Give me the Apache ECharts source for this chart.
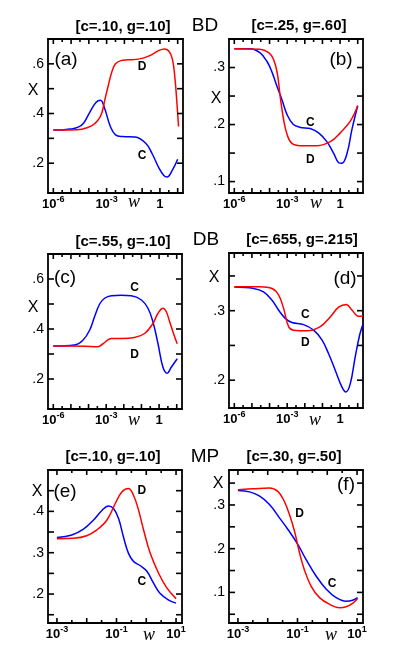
<!DOCTYPE html>
<html>
<head>
<meta charset="utf-8">
<script src="https://cdn.jsdelivr.net/npm/echarts@6.0.0/dist/echarts.min.js"></script>
<style>
  html, body { margin: 0; padding: 0; background: #fff; }
  #chart { width: 415px; height: 668px; }
</style>
</head>
<body>
<div id="chart"></div>
<script>
// x is log10(w), y is X
// BD, c=.10 g=.10
const a_C = [[-6.0,.334],[-5.5,.334],[-5.0,.338],[-4.6,.345],[-4.3,.361],[-3.95,.405],[-3.6,.444],[-3.35,.453],[-3.1,.418],[-2.8,.350],[-2.5,.314],[-2.1,.307],[-1.4,.305],[-0.8,.280],[-0.45,.240],[-0.05,.180],[0.22,.150],[0.4,.144],[0.7,.172],[1.0,.216]];
const a_D = [[-6.0,.334],[-5.0,.334],[-4.4,.337],[-3.85,.350],[-3.5,.372],[-3.28,.400],[-3.1,.455],[-2.9,.515],[-2.7,.569],[-2.5,.600],[-2.2,.613],[-1.8,.616],[-1.2,.619],[-0.6,.632],[-0.1,.652],[0.25,.660],[0.5,.652],[0.7,.620],[0.85,.540],[0.97,.430],[1.05,.348]];
// BD, c=.25 g=.60
const b_C = [[-6.0,.333],[-5.1,.333],[-4.55,.326],[-4.15,.311],[-3.85,.291],[-3.58,.267],[-3.3,.244],[-3.0,.217],[-2.65,.200],[-2.25,.195],[-1.7,.193],[-1.2,.185],[-0.75,.170],[-0.37,.150],[-0.08,.133],[0.1,.132],[0.4,.150],[0.67,.191],[1.0,.233]];
const b_D = [[-6.0,.333],[-4.55,.332],[-4.05,.326],[-3.77,.314],[-3.55,.288],[-3.4,.250],[-3.2,.208],[-3.0,.182],[-2.73,.167],[-2.25,.163],[-1.3,.163],[-0.55,.170],[0.0,.185],[0.58,.206],[1.0,.233]];
// DB, c=.55 g=.10
const c_C = [[-6.0,.332],[-4.8,.336],[-4.32,.355],[-3.94,.395],[-3.66,.449],[-3.37,.500],[-3.09,.523],[-2.7,.533],[-2.15,.535],[-1.58,.533],[-1.0,.516],[-0.63,.483],[-0.35,.429],[-0.06,.341],[0.22,.247],[0.46,.223],[0.69,.247],[1.03,.281]];
const c_D = [[-6.0,.332],[-5.2,.332],[-4.2,.331],[-3.47,.329],[-3.18,.341],[-2.71,.362],[-2.14,.362],[-1.39,.366],[-0.82,.382],[-0.35,.422],[-0.06,.463],[0.22,.483],[0.41,.469],[0.6,.429],[0.85,.375],[1.03,.341]];
// DB, c=.655 g=.215
const d_C = [[-6.0,.334],[-4.9,.332],[-4.34,.327],[-3.86,.315],[-3.49,.301],[-3.11,.289],[-2.73,.283],[-2.07,.280],[-1.5,.272],[-1.03,.258],[-0.65,.238],[-0.27,.214],[0.11,.190],[0.33,.183],[0.58,.195],[0.86,.234],[1.11,.265],[1.3,.281]];
const d_D = [[-6.0,.3346],[-4.53,.3346],[-3.86,.332],[-3.49,.3226],[-3.2,.303],[-2.92,.277],[-2.64,.272],[-1.88,.271],[-1.12,.277],[-0.56,.291],[-0.08,.305],[0.35,.309],[0.67,.301],[1.05,.292],[1.3,.292]];
// MP, c=.10 g=.10
const e_C = [[-3.0,.337],[-2.5,.343],[-2.11,.357],[-1.77,.379],[-1.49,.402],[-1.27,.413],[-1.1,.407],[-0.93,.383],[-0.77,.339],[-0.6,.299],[-0.43,.279],[-0.21,.269],[0.02,.255],[0.24,.227],[0.46,.202],[0.74,.186],[1.0,.178]];
const e_D = [[-3.0,.334],[-2.44,.335],[-2.0,.341],[-1.66,.355],[-1.32,.379],[-1.04,.419],[-0.82,.447],[-0.6,.455],[-0.43,.439],[-0.26,.403],[-0.09,.355],[0.13,.299],[0.41,.251],[0.69,.215],[1.0,.189]];
// MP, c=.30 g=.50
const f_C = [[-3.0,.333],[-2.61,.330],[-2.27,.320],[-1.94,.301],[-1.6,.270],[-1.32,.244],[-0.99,.210],[-0.71,.175],[-0.37,.137],[-0.04,.108],[0.3,.088],[0.63,.080],[0.85,.082],[1.02,.088]];
const f_D = [[-3.0,.335],[-2.5,.337],[-1.94,.339],[-1.66,.331],[-1.44,.308],[-1.27,.278],[-1.1,.240],[-0.93,.190],[-0.77,.152],[-0.54,.114],[-0.26,.088],[0.07,.073],[0.41,.065],[0.63,.067],[0.85,.075],[1.02,.086]];

// where the C / D tags sit [log10 w, X]
const tagC = [[-1.01,.229],[-1.69,.204],[-1.39,.564],[-1.97,.294],[-0.15,.229],[0.16,.120]];
const tagD = [[-1.01,.589],[-1.69,.139],[-1.39,.297],[-1.97,.254],[-0.15,.449],[-0.93,.280]];

// w axes (exponents)
const wTicksUpper = [-6,-5,-4,-3,-2,-1,0,1];
const wMinorUpper = [-5.5,-4.5,-3.5,-2.5,-1.5,-0.5,0.5];
const wLabelsUpper = [-6,-3,0];
const wTicksLower = [-3,-2,-1,0,1];
const wMinorLower = [-2.5,-1.5,-0.5,0.5];
const wLabelsLower = [-3,-1,1];

// X axes
const yTicksAC = [.2,.3,.4,.5,.6,.7], yLabelsAC = [.2,.4,.6];
const yTicksB = [.1,.15,.2,.25,.3,.35], yLabelsB = [.1,.2,.3];
const yTicksD = [.2,.25,.3,.35], yLabelsD = [.2,.3];
const yTicksE = [.15,.2,.25,.3,.35,.4,.45,.5], yLabelsE = [.2,.3,.4];
const yTicksF = [.05,.1,.15,.2,.25,.3,.35], yLabelsF = [.1,.2,.3];

const titles = ['[c=.10, g=.10]','[c=.25, g=.60]','[c=.55, g=.10]','[c=.655, g=.215]','[c=.10, g=.10]','[c=.30, g=.50]'];
const letters = ['(a)','(b)','(c)','(d)','(e)','(f)'];

const FONT = '"Liberation Sans", Arial, Helvetica, sans-serif';
const RED = '#ff0000', BLUE = '#0000ff';

const upper = {min: -6.3, max: 1.3, ticks: wTicksUpper, minor: wMinorUpper, labels: wLabelsUpper};
const lower = {min: -3.3, max: 1.2, ticks: wTicksLower, minor: wMinorLower, labels: wLabelsLower};

const panels = [
  {box: [48, 39, 135, 154], w: upper, ymin: .08, ymax: .7, yt: yTicksAC, yl: yLabelsAC, C: a_C, D: a_D},
  {box: [229, 39, 134, 154], w: upper, ymin: .08, ymax: .35, yt: yTicksB, yl: yLabelsB, C: b_C, D: b_D},
  {box: [48, 254, 134, 155], w: upper, ymin: .08, ymax: .7, yt: yTicksAC, yl: yLabelsAC, C: c_C, D: c_D},
  {box: [229, 253, 134, 155], w: upper, ymin: .16, ymax: .383, yt: yTicksD, yl: yLabelsD, C: d_C, D: d_D},
  {box: [48, 470, 134, 153], w: lower, ymin: .13, ymax: .5, yt: yTicksE, yl: yLabelsE, C: e_C, D: e_D},
  {box: [229, 470, 134, 153], w: lower, ymin: .03, ymax: .38, yt: yTicksF, yl: yLabelsF, C: f_C, D: f_D}
];

const frame = {color: '#000', width: 1.8};

function powLabel(v) {
  if (v === 0) return '{b|1}';
  return '{b|10}{s|' + v + '}';
}
const powRich = {
  b: {fontFamily: FONT, fontWeight: 'bold', fontSize: 13, color: '#000', lineHeight: 16, verticalAlign: 'bottom'},
  s: {fontFamily: FONT, fontWeight: 'bold', fontSize: 9, color: '#000', lineHeight: 6, verticalAlign: 'top'}
};

const grid = [], xAxis = [], yAxis = [], series = [];

panels.forEach(function (p, i) {
  grid.push({left: p.box[0], top: p.box[1], width: p.box[2], height: p.box[3], outerBoundsMode: 'none'});
  ['bottom', 'top'].forEach(function (pos) {
    xAxis.push({
      gridIndex: i, type: 'value', position: pos, min: p.w.min, max: p.w.max,
      axisLine: {show: true, onZero: false, lineStyle: frame},
      axisTick: {show: false},
      axisLabel: pos === 'bottom'
        ? {show: true, customValues: p.w.labels, margin: 2, formatter: powLabel, rich: powRich}
        : {show: false},
      splitLine: {show: false}
    });
  });
  ['left', 'right'].forEach(function (pos) {
    yAxis.push({
      gridIndex: i, type: 'value', position: pos, min: p.ymin, max: p.ymax,
      axisLine: {show: true, onZero: false, lineStyle: frame},
      axisTick: {show: false},
      axisLabel: pos === 'left'
        ? {show: true, customValues: p.yl, margin: 4, color: '#000', fontFamily: FONT, fontSize: 14,
           formatter: function (v) { return String(v).replace(/^0\./, '.'); }}
        : {show: false},
      splitLine: {show: false}
    });
  });
  [['C', p.C, BLUE, tagC[i]], ['D', p.D, RED, tagD[i]]].forEach(function (s) {
    series.push({
      name: s[0], type: 'line', xAxisIndex: 2 * i, yAxisIndex: 2 * i,
      data: s[1], smooth: 0.4, showSymbol: false, symbol: 'none',
      lineStyle: {color: s[2], width: 1.5}, itemStyle: {color: s[2]},
      markPoint: {
        symbol: 'circle', symbolSize: 0, silent: true,
        label: {show: true, position: 'inside', formatter: s[0], color: '#000',
                fontFamily: FONT, fontWeight: 'bold', fontSize: 12},
        data: [{coord: s[3]}]
      }
    });
  });
});

function txt(text, x, y, font) {
  return {type: 'text', x: x, y: y, silent: true, z: 10,
    style: {text: text, font: font, fill: '#000', align: 'center', verticalAlign: 'middle'}};
}

const titleFont = 'bold 15px ' + FONT;
const bigFont = '19px ' + FONT;
const xFont = '16px ' + FONT;
const wFont = 'italic 18px "Liberation Serif", "Times New Roman", serif';

const texts = [
  txt(titles[0], 123, 27, titleFont), txt(titles[1], 299, 26, titleFont),
  txt(titles[2], 123, 242, titleFont), txt(titles[3], 302, 240, titleFont),
  txt(titles[4], 113, 457, titleFont), txt(titles[5], 294, 457, titleFont),
  txt('BD', 205, 26, bigFont), txt('DB', 206, 240, bigFont), txt('MP', 205, 457, bigFont),
  txt(letters[0], 66, 60, bigFont), txt(letters[1], 341, 60, bigFont),
  txt(letters[2], 65, 278, bigFont), txt(letters[3], 345, 279, bigFont),
  txt(letters[4], 65, 492, bigFont), txt(letters[5], 346, 485, bigFont),
  txt('X', 33, 91, xFont), txt('X', 216, 99, xFont),
  txt('X', 33, 308, xFont), txt('X', 214, 278, xFont),
  txt('X', 37, 492, xFont), txt('X', 218, 484, xFont),
  txt('w', 134, 202, wFont), txt('w', 316, 203, wFont),
  txt('w', 134, 420, wFont), txt('w', 315, 420, wFont),
  txt('w', 149, 635, wFont), txt('w', 331, 635, wFont)
];

const chart = echarts.init(document.getElementById('chart'));
chart.setOption({
  animation: false,
  backgroundColor: '#fff',
  grid: grid,
  xAxis: xAxis,
  yAxis: yAxis,
  series: series
});

// inward ticks on all four sides, placed through each panel's axes
function seg(x1, y1, x2, y2) {
  return {type: 'line', silent: true, z: 10,
    shape: {x1: x1, y1: y1, x2: x2, y2: y2}, style: {stroke: '#000', lineWidth: 1.6}};
}
const ticks = [];
panels.forEach(function (p, i) {
  const f = {seriesIndex: 2 * i};
  const lo = chart.convertToPixel(f, [p.w.min, p.ymin]);
  const hi = chart.convertToPixel(f, [p.w.max, p.ymax]);
  function xt(v, len) {
    const px = chart.convertToPixel(f, [v, p.ymin])[0];
    ticks.push(seg(px, lo[1], px, lo[1] - len), seg(px, hi[1], px, hi[1] + len));
  }
  p.w.ticks.forEach(function (v) { xt(v, 5); });
  p.w.minor.forEach(function (v) { xt(v, 3); });
  p.yt.forEach(function (v) {
    const py = chart.convertToPixel(f, [p.w.min, v])[1];
    ticks.push(seg(lo[0], py, lo[0] + 6, py), seg(hi[0], py, hi[0] - 6, py));
  });
});

chart.setOption({graphic: texts.concat(ticks)});
</script>
</body>
</html>
